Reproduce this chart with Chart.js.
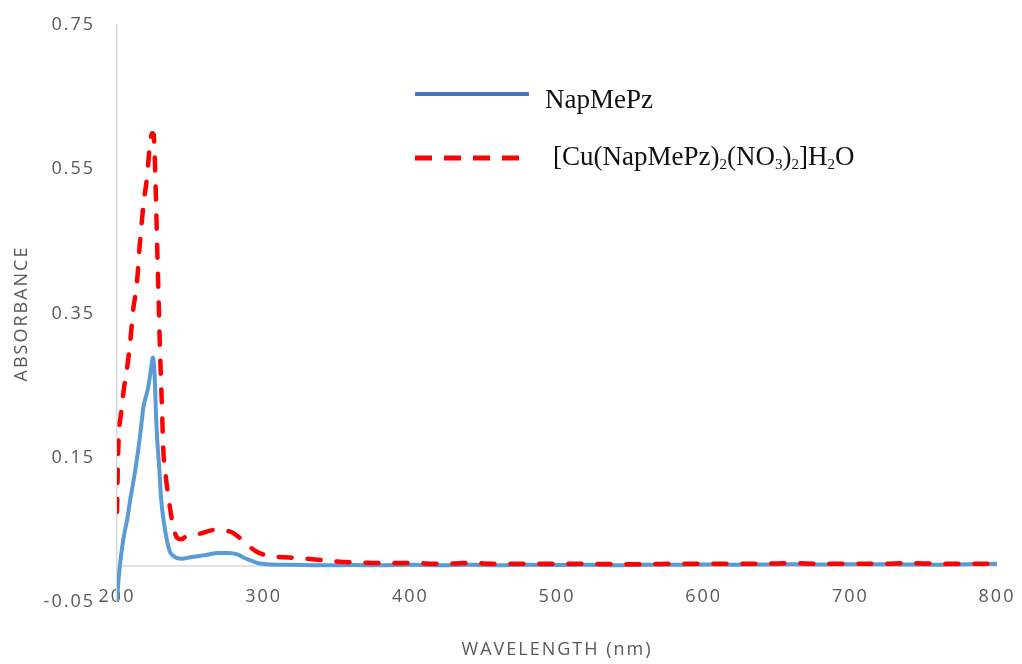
<!DOCTYPE html>
<html><head><meta charset="utf-8">
<script src="https://cdn.jsdelivr.net/npm/chart.js@4/dist/chart.umd.min.js"></script>
<style>html,body{margin:0;padding:0;background:#fff}#wrap{position:relative;width:1022px;height:664px}</style>
</head><body><div id="wrap"><canvas id="c"></canvas></div>
<script>
const seriesNames = ['NapMePz', '[Cu(NapMePz)2(NO3)2]H2O'];
const xTickValues = [200, 300, 400, 500, 600, 700, 800];
const yTickValues = [-0.05, 0.15, 0.35, 0.55, 0.75];
const xTitle = 'WAVELENGTH (nm)';
const yTitle = 'ABSORBANCE';

const napWavelength = [200, 201, 202.5, 203.5, 205, 207, 209, 211, 213, 216, 218, 221, 223, 224.5, 225.5, 227, 229, 230, 232, 234, 236, 239, 244, 250, 260, 269, 276, 282, 287, 292, 296, 305, 320, 340, 360, 380, 400, 420, 440, 460, 480, 500, 520, 540, 560, 580, 600, 620, 640, 660, 680, 700, 720, 740, 760, 780, 800];
const napAbsorbance = [-0.05, -0.02, 0.01, 0.026, 0.045, 0.065, 0.092, 0.115, 0.14, 0.185, 0.22, 0.245, 0.27, 0.289, 0.27, 0.19, 0.13, 0.095, 0.06, 0.036, 0.02, 0.013, 0.01, 0.012, 0.015, 0.018, 0.018, 0.016, 0.011, 0.007, 0.004, 0.002, 0.0015, 0.001, 0.0012, 0.001, 0.0015, 0.001, 0.0015, 0.001, 0.0015, 0.0012, 0.0015, 0.001, 0.0015, 0.0015, 0.002, 0.0018, 0.002, 0.0022, 0.002, 0.0025, 0.0022, 0.002, 0.0018, 0.0022, 0.003];

const cuWavelength = [200, 200.5, 201, 203, 205, 206, 209, 211, 213.5, 215.5, 218, 220.5, 222.5, 224, 225, 226, 227.3, 228.5, 229.3, 230.7, 231.5, 233.5, 235, 237.5, 241, 244, 247, 257, 267, 272, 278, 283, 289, 295, 301, 310, 323, 335, 345, 360, 380, 400, 420, 440, 460, 480, 500, 520, 540, 560, 580, 600, 620, 640, 660, 680, 700, 720, 740, 760, 780, 800];
const cuAbsorbance = [0.075, 0.13, 0.17, 0.215, 0.25, 0.262, 0.31, 0.355, 0.39, 0.445, 0.5, 0.54, 0.585, 0.6, 0.598, 0.55, 0.45, 0.36, 0.3, 0.217, 0.165, 0.12, 0.096, 0.064, 0.039, 0.037, 0.041, 0.045, 0.05, 0.049, 0.047, 0.04, 0.029, 0.02, 0.015, 0.0125, 0.011, 0.009, 0.007, 0.005, 0.004, 0.004, 0.003, 0.004, 0.003, 0.003, 0.003, 0.003, 0.0025, 0.0025, 0.003, 0.003, 0.003, 0.003, 0.004, 0.003, 0.003, 0.003, 0.004, 0.003, 0.003, 0.003];

const toPoints = (xs, ys) => xs.map((x, i) => ({x: x, y: ys[i]}));
const TXT = '#595959';
const tickFont = {family: "'Open Sans', 'Liberation Sans', sans-serif", size: 18};

const spacingPlugin = {
  id: 'spacing',
  beforeLayout(chart) { chart.ctx.letterSpacing = '2px'; },
  beforeDraw(chart) { chart.ctx.letterSpacing = '2px'; }
};

const zeroLinePlugin = {
  id: 'zeroLine',
  beforeDatasetsDraw(chart) {
    const ctx = chart.ctx, a = chart.chartArea;
    const y = chart.scales.y.getPixelForValue(0);
    ctx.save();
    ctx.strokeStyle = '#D9D9D9';
    ctx.lineWidth = 1.5;
    ctx.beginPath(); ctx.moveTo(a.left, y); ctx.lineTo(a.right, y); ctx.stroke();
    ctx.restore();
  }
};

function drawRich(ctx, text, x, y, mainPx, subPx) {
  const parts = text.match(/\d+|\D+/g);
  let cx = x;
  parts.forEach(p => {
    const isSub = /^\d+$/.test(p);
    ctx.font = (isSub ? subPx : mainPx) + "px 'Liberation Serif', 'Times New Roman', serif";
    ctx.fillText(p, cx, isSub ? y + 4 : y);
    cx += ctx.measureText(p).width;
  });
}

const legendPlugin = {
  id: 'customLegend',
  afterDraw(chart) {
    const ctx = chart.ctx, a = chart.chartArea;
    const x0 = a.left + 298;
    ctx.save();
    ctx.letterSpacing = '0px';
    ctx.textBaseline = 'alphabetic';
    ctx.fillStyle = '#111111';
    ctx.strokeStyle = '#4178BE';
    ctx.lineWidth = 4;
    ctx.setLineDash([]);
    ctx.beginPath(); ctx.moveTo(x0, a.top + 69); ctx.lineTo(x0 + 114, a.top + 69); ctx.stroke();
    drawRich(ctx, seriesNames[0], x0 + 130, a.top + 83, 27, 15);
    ctx.strokeStyle = '#FF0000';
    ctx.lineWidth = 5;
    ctx.setLineDash([17, 12]);
    ctx.beginPath(); ctx.moveTo(x0, a.top + 133); ctx.lineTo(x0 + 104, a.top + 133); ctx.stroke();
    drawRich(ctx, seriesNames[1], x0 + 138, a.top + 140, 27, 15);
    ctx.restore();
  }
};

new Chart(document.getElementById('c'), {
  type: 'scatter',
  data: {
    datasets: [
      {
        label: seriesNames[0],
        data: toPoints(napWavelength, napAbsorbance),
        showLine: true,
        borderColor: '#5B9BD5',
        borderWidth: 4,
        pointRadius: 0,
        cubicInterpolationMode: 'monotone',
        borderCapStyle: 'round',
        borderJoinStyle: 'round',
        order: 1
      },
      {
        label: seriesNames[1],
        data: toPoints(cuWavelength, cuAbsorbance),
        showLine: true,
        borderColor: '#FF0000',
        borderWidth: 4.5,
        borderDash: [13, 16],
        borderCapStyle: 'round',
        borderJoinStyle: 'round',
        pointRadius: 0,
        cubicInterpolationMode: 'monotone',
        order: 0
      }
    ]
  },
  options: {
    responsive: true,
    maintainAspectRatio: false,
    animation: false,
    layout: {padding: {left: 0, right: 25, top: 25, bottom: 0}},
    plugins: {legend: {display: false}, tooltip: {enabled: false}},
    scales: {
      x: {
        type: 'linear',
        min: 200, max: 800,
        position: 'bottom',
        grid: {display: false, drawTicks: false},
        border: {display: false},
        afterBuildTicks: s => { s.ticks = xTickValues.map(v => ({value: v})); },
        afterFit: s => { s.height = 62; s.paddingLeft = 0; s.paddingRight = 0; },
        ticks: {color: TXT, font: tickFont, mirror: true, padding: -6, maxRotation: 0, autoSkip: false, callback: v => String(v)},
        title: {display: true, text: xTitle, color: TXT, font: tickFont, padding: {top: 0, bottom: 3}}
      },
      y: {
        type: 'linear',
        min: -0.05, max: 0.75,
        grid: {display: false, drawTicks: false},
        border: {display: true, color: '#D9D9D9', width: 1.5},
        afterBuildTicks: s => { s.ticks = yTickValues.map(v => ({value: v})); },
        afterFit: s => { s.width = 117; s.paddingTop = 0; s.paddingBottom = 0; },
        ticks: {color: TXT, font: tickFont, padding: 22, callback: v => Number(v).toFixed(2)},
        title: {display: true, text: yTitle, color: TXT, font: tickFont, padding: {top: 11, bottom: 0}}
      }
    }
  },
  plugins: [spacingPlugin, zeroLinePlugin, legendPlugin]
});
</script>
</body></html>
